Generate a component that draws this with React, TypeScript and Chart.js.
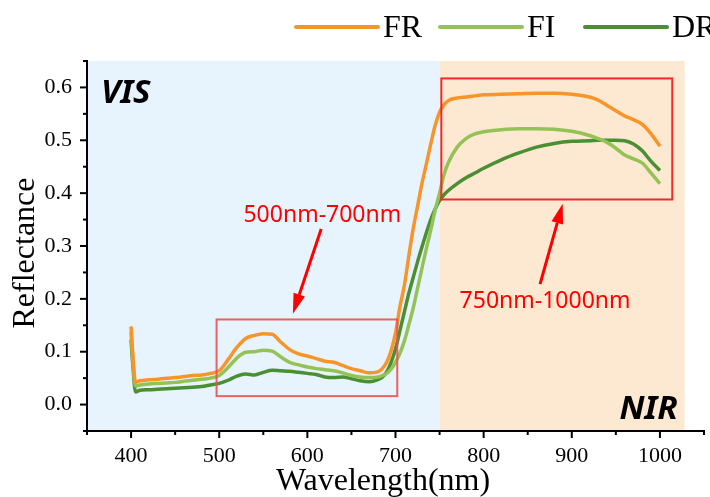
import React, { useEffect, useRef } from 'react';
import { Chart, registerables } from 'chart.js';

Chart.register(...registerables);

// ---- data ----
const wavelengths = [
  400, 402, 405, 410, 420, 430, 440, 450, 460, 470, 480, 490, 500, 510, 520, 530, 540, 550, 560, 570,
  580, 590, 600, 610, 620, 630, 640, 650, 660, 670, 680, 685, 690, 695, 700, 705, 710, 715, 720, 725,
  730, 735, 740, 745, 750, 755, 760, 770, 780, 790, 800, 820, 840, 860, 880, 900, 920, 930, 940, 950,
  960, 970, 980, 990, 1000,
];

const frValues = [
  0.148, 0.095, 0.042, 0.045, 0.047, 0.048, 0.05, 0.051, 0.053, 0.055, 0.056, 0.059, 0.064, 0.085, 0.108, 0.125, 0.131, 0.134, 0.133, 0.118,
  0.104, 0.096, 0.092, 0.087, 0.082, 0.08, 0.074, 0.068, 0.064, 0.06, 0.062, 0.068, 0.08, 0.102, 0.135, 0.185, 0.225, 0.28, 0.332, 0.375,
  0.418, 0.455, 0.493, 0.528, 0.553, 0.567, 0.575, 0.58, 0.582, 0.584, 0.586, 0.587, 0.588, 0.589, 0.589, 0.587, 0.582, 0.576, 0.566, 0.556,
  0.546, 0.539, 0.53, 0.512, 0.489,
];

const fiValues = [
  0.137, 0.085, 0.035, 0.037, 0.039, 0.04, 0.041, 0.042, 0.044, 0.046, 0.048, 0.05, 0.055, 0.07, 0.088, 0.099, 0.1, 0.103, 0.101, 0.09,
  0.08, 0.075, 0.071, 0.068, 0.066, 0.064, 0.06, 0.055, 0.052, 0.051, 0.052, 0.055, 0.059, 0.067, 0.08, 0.097, 0.12, 0.15, 0.182, 0.22,
  0.258, 0.295, 0.33, 0.368, 0.4, 0.435, 0.458, 0.487, 0.503, 0.512, 0.516, 0.52, 0.522, 0.522, 0.521, 0.517, 0.509, 0.503, 0.496, 0.485,
  0.472, 0.465, 0.457, 0.438, 0.418,
];

const drValues = [
  0.123, 0.075, 0.024, 0.027, 0.028, 0.029, 0.03, 0.031, 0.032, 0.033, 0.034, 0.037, 0.04, 0.046, 0.054, 0.058, 0.056, 0.061, 0.065, 0.064,
  0.063, 0.061, 0.059, 0.057, 0.052, 0.051, 0.052, 0.049, 0.045, 0.043, 0.047, 0.052, 0.062, 0.08, 0.105, 0.14, 0.175, 0.21, 0.24, 0.27,
  0.298, 0.325, 0.35, 0.37, 0.386, 0.397, 0.405, 0.418, 0.429, 0.438, 0.447, 0.463, 0.476, 0.487, 0.494, 0.498, 0.499, 0.5, 0.5, 0.5,
  0.499, 0.493, 0.48, 0.46, 0.443,
];

const seriesNames = ['FR', 'FI', 'DR'];
const seriesColors = ['#f8952a', '#95c256', '#4a8f32'];

// regions / annotations (data units)
const visRange = [350, 750];
const nirRange = [750, 1028];
const box1 = { x0: 497, x1: 702, y0: 0.016, y1: 0.161 };
const box2 = { x0: 752, x1: 1014, y0: 0.388, y1: 0.617 };
const arrow1 = { x0: 615.7, y0: 0.332, x1: 583.6, y1: 0.172 };
const arrow2 = { x0: 864, y0: 0.228, x1: 889.7, y1: 0.38 };
const label1 = { text: '500nm-700nm', x: 617, y: 0.358 };
const label2 = { text: '750nm-1000nm', x: 869.7, y: 0.195 };

const SERIF = '"Liberation Serif", "Times New Roman", serif';
const SANS = '"Noto Sans", "Open Sans", sans-serif';

function drawArrow(ctx: CanvasRenderingContext2D, x0: number, y0: number, x1: number, y1: number) {
  const ang = Math.atan2(y1 - y0, x1 - x0);
  const headLen = 20;
  const headW = 6;
  const bx = x1 - Math.cos(ang) * headLen;
  const by = y1 - Math.sin(ang) * headLen;
  ctx.beginPath();
  ctx.moveTo(x0, y0);
  ctx.lineTo(bx, by);
  ctx.stroke();
  ctx.beginPath();
  ctx.moveTo(x1, y1);
  ctx.lineTo(bx + Math.sin(ang) * headW, by - Math.cos(ang) * headW);
  ctx.lineTo(bx - Math.sin(ang) * headW, by + Math.cos(ang) * headW);
  ctx.closePath();
  ctx.fill();
}

const backgroundPlugin = {
  id: 'regionBg',
  beforeDraw(chart: any) {
    const { ctx, chartArea, scales } = chart;
    const x = scales.x;
    ctx.save();
    ctx.fillStyle = '#e7f3fd';
    const a = x.getPixelForValue(visRange[0]);
    const b = x.getPixelForValue(visRange[1]);
    ctx.fillRect(a, chartArea.top, b - a, chartArea.bottom - chartArea.top);
    ctx.fillStyle = '#fde8d2';
    const c = x.getPixelForValue(nirRange[0]);
    const d = x.getPixelForValue(nirRange[1]);
    ctx.fillRect(c, chartArea.top, d - c, chartArea.bottom - chartArea.top);
    ctx.restore();
  },
};

const annotationPlugin = {
  id: 'annotations',
  afterDatasetsDraw(chart: any) {
    const { ctx, scales } = chart;
    const x = scales.x;
    const y = scales.y;
    ctx.save();
    // boxes
    ctx.lineWidth = 2;
    ctx.strokeStyle = 'rgba(236, 80, 80, 0.9)';
    ctx.strokeRect(
      x.getPixelForValue(box1.x0), y.getPixelForValue(box1.y1),
      x.getPixelForValue(box1.x1) - x.getPixelForValue(box1.x0),
      y.getPixelForValue(box1.y0) - y.getPixelForValue(box1.y1),
    );
    ctx.strokeStyle = '#ee2a2a';
    ctx.strokeRect(
      x.getPixelForValue(box2.x0), y.getPixelForValue(box2.y1),
      x.getPixelForValue(box2.x1) - x.getPixelForValue(box2.x0),
      y.getPixelForValue(box2.y0) - y.getPixelForValue(box2.y1),
    );
    // arrows
    ctx.strokeStyle = '#ff0000';
    ctx.fillStyle = '#ff0000';
    ctx.lineWidth = 3;
    for (const ar of [arrow1, arrow2]) {
      drawArrow(ctx, x.getPixelForValue(ar.x0), y.getPixelForValue(ar.y0), x.getPixelForValue(ar.x1), y.getPixelForValue(ar.y1));
    }
    // labels
    ctx.font = `23px ${SANS}`;
    ctx.textAlign = 'center';
    ctx.textBaseline = 'middle';
    for (const lb of [label1, label2]) {
      ctx.fillText(lb.text, x.getPixelForValue(lb.x), y.getPixelForValue(lb.y));
    }
    ctx.restore();
  },
};

const decorPlugin = {
  id: 'decor',
  afterDraw(chart: any) {
    const { ctx, chartArea, scales } = chart;
    const x = scales.x;
    const y = scales.y;
    ctx.save();
    // tick marks (major + minor), outward
    ctx.strokeStyle = '#000';
    ctx.lineWidth = 2;
    x.ticks.forEach((t: any) => {
      const px = x.getPixelForValue(t.value);
      const major = Math.round(t.value) % 100 === 0;
      ctx.beginPath();
      ctx.moveTo(px, chartArea.bottom);
      ctx.lineTo(px, chartArea.bottom + (major ? 7 : 4));
      ctx.stroke();
    });
    y.ticks.forEach((t: any) => {
      const py = y.getPixelForValue(t.value);
      const major = Math.round(t.value * 100) % 10 === 0;
      ctx.beginPath();
      ctx.moveTo(chartArea.left, py);
      ctx.lineTo(chartArea.left - (major ? 7 : 4), py);
      ctx.stroke();
    });
    // region labels
    ctx.fillStyle = '#000';
    ctx.font = `italic bold 33px ${SANS}`;
    ctx.textBaseline = 'alphabetic';
    ctx.textAlign = 'left';
    ctx.fillText('VIS', chartArea.left + 14, chartArea.top + 42);
    ctx.textAlign = 'right';
    ctx.fillText('NIR', x.getPixelForValue(nirRange[1]) - 7, chartArea.bottom - 12);
    // axis titles
    ctx.font = `32px ${SERIF}`;
    ctx.textAlign = 'center';
    ctx.fillText('Wavelength(nm)', 383, 490);
    ctx.save();
    ctx.translate(34, 253);
    ctx.rotate(-Math.PI / 2);
    ctx.fillText('Reflectance', 0, 0);
    ctx.restore();
    // legend
    const legendX = [296, 440, 585];
    ctx.lineWidth = 4;
    ctx.lineCap = 'round';
    ctx.font = `32px ${SERIF}`;
    ctx.textAlign = 'left';
    seriesNames.forEach((name, i) => {
      ctx.strokeStyle = seriesColors[i];
      ctx.beginPath();
      ctx.moveTo(legendX[i], 27);
      ctx.lineTo(legendX[i] + 82, 27);
      ctx.stroke();
      ctx.fillStyle = '#000';
      ctx.fillText(name, legendX[i] + 87, 37);
    });
    ctx.restore();
  },
};

export default function App() {
  const canvasRef = useRef<HTMLCanvasElement | null>(null);

  useEffect(() => {
    document.body.style.margin = '0';
    const canvas = canvasRef.current;
    if (!canvas) return;
    const valueSets = [frValues, fiValues, drValues];
    const chart = new Chart(canvas, {
      type: 'line',
      data: {
        datasets: seriesNames.map((name, i) => ({
          label: name,
          data: wavelengths.map((w, j) => ({ x: w, y: valueSets[i][j] })),
          borderColor: seriesColors[i],
          borderWidth: 3.5,
          pointRadius: 0,
          cubicInterpolationMode: 'monotone' as const,
          fill: false,
        })),
      },
      options: {
        responsive: false,
        animation: false,
        devicePixelRatio: 1,
        layout: { padding: { top: 61, right: 6, left: 0, bottom: 0 } },
        plugins: { legend: { display: false }, tooltip: { enabled: false } },
        scales: {
          x: {
            type: 'linear',
            min: 350,
            max: 1050,
            grid: { display: false, drawTicks: false },
            border: { display: true, color: '#000', width: 2 },
            ticks: {
              stepSize: 50,
              autoSkip: false,
              maxRotation: 0,
              padding: 12,
              color: '#000',
              font: { family: SERIF, size: 22 },
              callback: (v: any) => {
                const n = Math.round(Number(v));
                return n % 100 === 0 && n >= 400 && n <= 1000 ? String(n) : '';
              },
            },
            afterFit: (s: any) => {
              s.height = 66;
              s.paddingRight = 0;
              s.paddingLeft = 0;
            },
          },
          y: {
            type: 'linear',
            min: -0.05,
            max: 0.65,
            grid: { display: false, drawTicks: false },
            border: { display: true, color: '#000', width: 2 },
            ticks: {
              stepSize: 0.05,
              autoSkip: false,
              padding: 15,
              color: '#000',
              font: { family: SERIF, size: 22 },
              callback: (v: any) => {
                const n = Math.round(Number(v) * 100);
                return n % 10 === 0 && n >= 0 && n <= 60 ? (n / 100).toFixed(1) : '';
              },
            },
            afterFit: (s: any) => {
              s.width = 87;
              s.paddingTop = 0;
              s.paddingBottom = 0;
            },
          },
        },
      },
      plugins: [backgroundPlugin, annotationPlugin, decorPlugin],
    });
    return () => chart.destroy();
  }, []);

  return (
    <div style={{ position: 'absolute', left: 0, top: 0, width: 710, height: 497 }}>
      <canvas ref={canvasRef} width={710} height={497} />
    </div>
  );
}
